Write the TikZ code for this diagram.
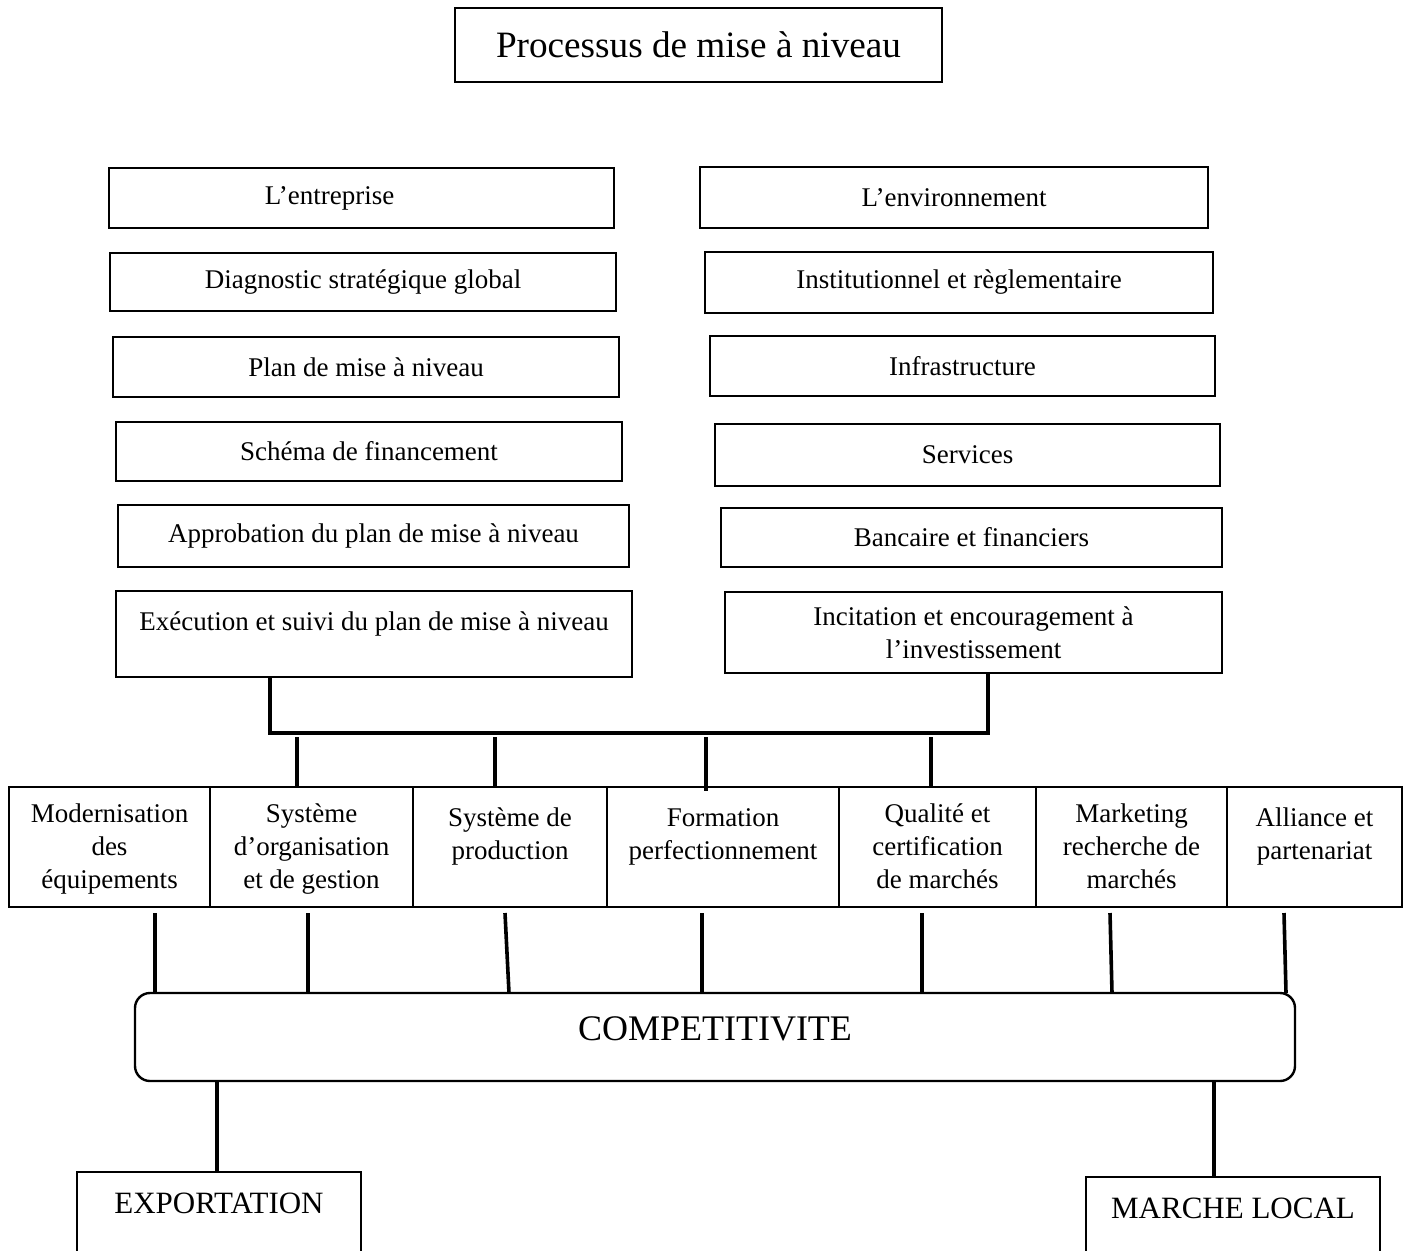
\documentclass[tikz,border=0pt]{standalone}
\usepackage{fontspec}
\setmainfont{Liberation Serif}
\usetikzlibrary{positioning}

\begin{document}
\begin{tikzpicture}[x=1pt,y=-1pt,
    boite/.style={draw,line width=2.4pt,inner sep=0pt,outer sep=0pt,font=\fontsize{27}{33}\selectfont},
    case/.style={draw,line width=2.4pt,inner sep=0pt,outer sep=0pt,minimum height=120pt},
    texte/.style={align=center,inner sep=0pt,font=\fontsize{27}{33}\selectfont},
    lien/.style={line width=3.6pt}]

            \useasboundingbox (0,0) rectangle (1410,1250);
            \clip (0,0) rectangle (1410,1250);

            \node[boite,minimum width=487,minimum height=74,font=\fontsize{37.2}{45}\selectfont] (titre) at (698.5,45) {Processus de mise à niveau};

            % colonne de gauche
            \node[boite,minimum width=505,minimum height=60] (entr) at (361.5,198) {L’entreprise\hspace*{64pt}};
            \node[boite,minimum width=506,minimum height=58] (diag) at (363,282) {Diagnostic stratégique global};
            \node[boite,minimum width=506,minimum height=60] (plan) at (366,367) {Plan de mise à niveau};
            \node[boite,minimum width=506,minimum height=59] (schema) at (369,451.5) {Schéma de financement};
            \node[boite,minimum width=511,minimum height=62] (approb) at (373.5,536) {Approbation du plan de mise à niveau};
            \node[boite,anchor=north,minimum width=516,text height=39pt,text depth=47pt] (exec) at (374,591) {Exécution et suivi du plan de mise à niveau};

            % colonne de droite
            \node[boite,minimum width=508,minimum height=61] (envir) at (954,197.5) {L’environnement};
            \node[boite,minimum width=508,minimum height=61] (instit) at (959,282.5) {Institutionnel et règlementaire};
            \node[boite,minimum width=505,minimum height=60] (infra) at (962.5,366) {Infrastructure};
            \node[boite,minimum width=505,minimum height=62] (serv) at (967.5,455) {Services};
            \node[boite,minimum width=501,minimum height=59] (banc) at (971.5,537.5) {Bancaire et financiers};
            \node[boite,align=center,minimum width=497,minimum height=81] (incit) at (973.5,632.5) {Incitation et encouragement à\\l’investissement};

            \coordinate (barre) at (629,733);
            \draw[lien] ([xshift=-104pt]exec.south) |- (barre) -| ([xshift=14.5pt]incit.south);

            % les axes de la mise a niveau
            \node[case,minimum width=201] (c1) at (109.5,847) {};
            \node[case,minimum width=203] (c2) at (311.5,847) {};
            \node[case,minimum width=194] (c3) at (510,847) {};
            \node[case,minimum width=232] (c4) at (723,847) {};
            \node[case,minimum width=197] (c5) at (937.5,847) {};
            \node[case,minimum width=191] (c6) at (1131.5,847) {};
            \node[case,minimum width=175] (c7) at (1314.5,847) {};

            \node[texte,below=17pt of c1.north] (t1) {Modernisation\\des\\équipements};
            \node[texte,below=17pt of c2.north] (t2) {Système\\d’organisation\\et de gestion};
            \node[texte,below=21pt of c3.north] (t3) {Système de\\production};
            \node[texte,below=21pt of c4.north] (t4) {Formation\\perfectionnement};
            \node[texte,below=17pt of c5.north] (t5) {Qualité et\\certification\\de marchés};
            \node[texte,below=17pt of c6.north] (t6) {Marketing\\recherche de\\marchés};
            \node[texte,below=21pt of c7.north] (t7) {Alliance et\\partenariat};

            \draw[lien] ([xshift=-14.5pt,yshift=50pt]c2.north) -- ([xshift=-14.5pt]c2.north);
            \draw[lien] ([xshift=-15pt,yshift=50pt]c3.north) -- ([xshift=-15pt]c3.north);
            \draw[lien] ([xshift=-17pt,yshift=50pt]c4.north) -- ([xshift=-17pt,yshift=-4pt]c4.north);
            \draw[lien] ([xshift=-6.5pt,yshift=50pt]c5.north) -- ([xshift=-6.5pt]c5.north);

            \node[boite,rounded corners=15pt,minimum width=1160,minimum height=88,text depth=16pt,font=\fontsize{36}{43}\selectfont] (compet) at (715,1037) {COMPETITIVITE};

            \draw[lien] ([xshift=45.5pt,yshift=-6pt]c1.south) -- ([xshift=45.5pt]c1.south |- compet.north);
            \draw[lien] ([xshift=-3.5pt,yshift=-6pt]c2.south) -- ([xshift=-3.5pt]c2.south |- compet.north);
            \draw[lien] ([xshift=-5pt,yshift=-6pt]c3.south) -- ([xshift=-1pt]c3.south |- compet.north);
            \draw[lien] ([xshift=-21pt,yshift=-6pt]c4.south) -- ([xshift=-21pt]c4.south |- compet.north);
            \draw[lien] ([xshift=-15.5pt,yshift=-6pt]c5.south) -- ([xshift=-15.5pt]c5.south |- compet.north);
            \draw[lien] ([xshift=-21.5pt,yshift=-6pt]c6.south) -- ([xshift=-19.5pt]c6.south |- compet.north);
            \draw[lien] ([xshift=-30.5pt,yshift=-6pt]c7.south) -- ([xshift=-28.5pt]c7.south |- compet.north);

            \node[boite,anchor=north,minimum width=284,text height=41pt,text depth=49pt,font=\fontsize{31}{37}\selectfont] (export) at (219,1172) {EXPORTATION};
            \node[boite,anchor=north,minimum width=294,text height=41pt,text depth=49pt,font=\fontsize{31}{37}\selectfont] (marche) at (1233,1177) {MARCHE LOCAL};

            \draw[lien] ([xshift=-2pt]export.north) -- ([xshift=-2pt]export.north |- compet.south);
            \draw[lien] ([xshift=-19pt]marche.north) -- ([xshift=-19pt]marche.north |- compet.south);
\end{tikzpicture}
\end{document}
